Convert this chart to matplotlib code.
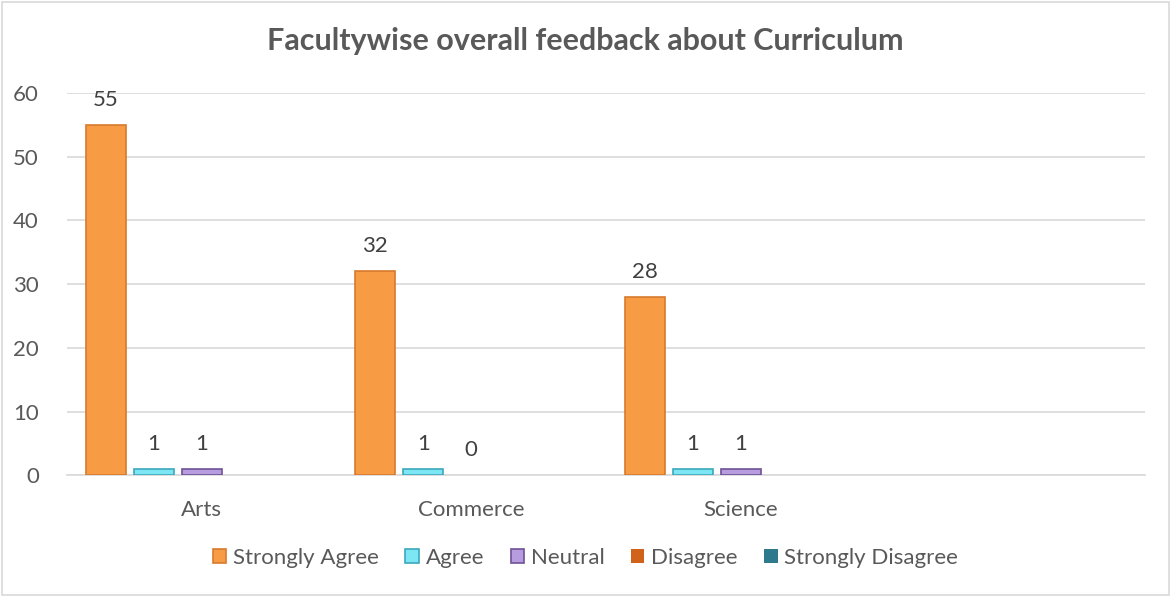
import matplotlib.pyplot as plt
import matplotlib.patches as patches
import numpy as np

plt.rcParams['font.family'] = ['Lato', 'DejaVu Sans']

faculties = ["Arts", "Commerce", "Science", ""]
strongly_agree = [55, 32, 28, 0]
agree = [1, 1, 1, 0]
neutral = [1, 0, 1, 0]
disagree = [0, 0, 0, 0]
strongly_disagree = [0, 0, 0, 0]

series = ["Strongly Agree", "Agree", "Neutral", "Disagree", "Strongly Disagree"]
values = [strongly_agree, agree, neutral, disagree, strongly_disagree]
face = ["#F89B45", "#7DE6F4", "#B79DE0", "#D0621A", "#2E7A8C"]
edge = ["#D87A2C", "#3CA8BA", "#6E5296", "#A54A10", "#1F5A68"]
labelled = [True, True, True, False, False]  # only first three series show data labels
n_real = 3  # empty 4th category has no labels

fig = plt.figure(figsize=(11.71, 5.97), dpi=100)
ax = fig.add_axes([0.057, 0.204, 0.921, 0.64])

x = np.arange(len(faculties))
slot = 0.178
width = 0.148

for i, (name, vals) in enumerate(zip(series, values)):
    pos = x + (i - 2) * slot
    lw = [1.2 if v > 0 else 0 for v in vals]
    ax.bar(pos, vals, width, color=face[i], edgecolor=edge[i], linewidth=lw,
           label=name, zorder=3)
    if labelled[i]:
        for j in range(n_real):
            ax.annotate(str(vals[j]), (pos[j], vals[j]), xytext=(0, 18),
                        textcoords="offset points", ha="center", va="center",
                        fontsize=16, color="#404040")

ax.set_xlim(-0.5, len(faculties) - 0.5)
ax.set_ylim(0, 60)
ax.set_yticks(range(0, 61, 10))
ax.set_xticks(x)
ax.set_xticklabels(faculties)
ax.yaxis.grid(True, color="#D9D9D9", linewidth=1.2, zorder=0)
ax.set_axisbelow(True)
for s in ["left", "right", "top"]:
    ax.spines[s].set_visible(False)
ax.spines["bottom"].set_color("#D9D9D9")
ax.spines["bottom"].set_linewidth(1.2)
ax.tick_params(axis="both", length=0, labelsize=16, colors="#595959")
ax.tick_params(axis="y", pad=20)
ax.tick_params(axis="x", pad=18)

fig.suptitle("Facultywise overall feedback about Curriculum", x=0.5, y=0.955,
             fontsize=22, fontweight="bold", color="#595959")

fig.legend(loc="center", bbox_to_anchor=(0.5, 0.065), ncol=5, frameon=False,
           fontsize=16, handlelength=0.6, handleheight=0.6, handletextpad=0.3,
           columnspacing=1.2, labelcolor="#595959")

fig.patches.append(patches.Rectangle((0.002, 0.003), 0.996, 0.994,
                                     transform=fig.transFigure, fill=False,
                                     edgecolor="#D9D9D9", linewidth=1.2))

fig.savefig("out.png", dpi=100)
